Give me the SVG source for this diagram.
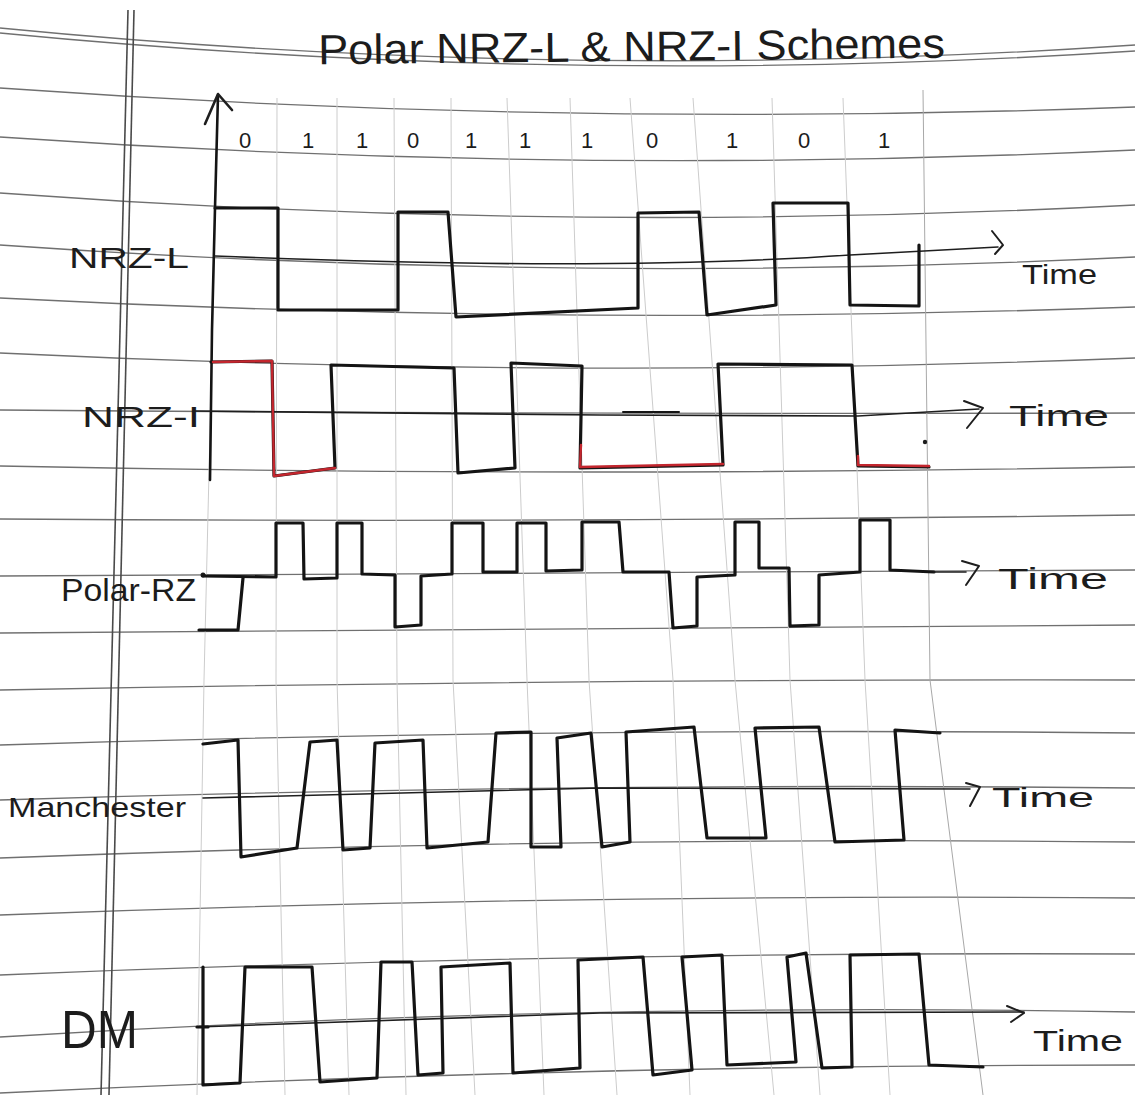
<svg xmlns="http://www.w3.org/2000/svg" width="1135" height="1095" viewBox="0 0 1135 1095">
<style>
.rule{stroke:#707070;stroke-width:1.3;fill:none}
.grid{stroke:#cccccc;stroke-width:1;fill:none}
.margin{stroke:#4a4a4a;stroke-width:1.6;fill:none}
.wave{stroke:#141414;stroke-width:3.2;fill:none;stroke-linejoin:round;stroke-linecap:round}
.axis{stroke:#1e1e1e;stroke-width:1.6;fill:none;stroke-linecap:round}
.head{stroke:#1e1e1e;stroke-width:2;fill:none;stroke-linecap:round;stroke-linejoin:round}
.hand{font-family:"Liberation Sans",Arial,sans-serif;fill:#1c1c1c}
.red{stroke:#c3262e;stroke-width:2.4;fill:none;stroke-linecap:round;stroke-linejoin:round}
</style>
<rect width="1135" height="1095" fill="#ffffff"/>
<g id="ruled-lines">
<path class="rule" d="M0,28 Q567,83.5 1135,45"/>
<path class="rule" d="M0,33 Q567,88 1135,51"/>
<path class="rule" d="M0,88 Q567,128.5 1135,107"/>
<path class="rule" d="M0,137 Q567,176.5 1135,150"/>
<path class="rule" d="M0,193 Q567,235 1135,205"/>
<path class="rule" d="M0,245 Q567,285 1135,257"/>
<path class="rule" d="M0,298 Q567,327.5 1135,307"/>
<path class="rule" d="M0,353 Q567,380.5 1135,358"/>
<path class="rule" d="M0,410 Q567,414.5 1135,413"/>
<path class="rule" d="M0,466 Q567,477.5 1135,467"/>
<path class="rule" d="M0,519 Q567,523 1135,515"/>
<path class="rule" d="M0,576 Q567,571 1135,570"/>
<path class="rule" d="M0,633 Q567,627 1135,625"/>
<path class="rule" d="M0,690 Q567,679 1135,680"/>
<path class="rule" d="M0,745 Q567,727 1135,733"/>
<path class="rule" d="M0,800 Q567,782 1135,788"/>
<path class="rule" d="M0,858 Q567,836 1135,842"/>
<path class="rule" d="M0,915 Q567,893.5 1135,898"/>
<path class="rule" d="M0,975 Q567,951.5 1135,954"/>
<path class="rule" d="M0,1037 Q567,1001.5 1135,1012"/>
<path class="rule" d="M0,1093 Q567,1065 1135,1065"/>
</g>
<g id="grid">
<polyline class="grid" points="218,98 204,680 197,1095"/>
<polyline class="grid" points="277,98 276,680 285,1095"/>
<polyline class="grid" points="337,98 337,680 349,1095"/>
<polyline class="grid" points="394,98 397,680 406,1095"/>
<polyline class="grid" points="451,98 453,680 475,1095"/>
<polyline class="grid" points="507,98 527,680 544,1095"/>
<polyline class="grid" points="570,98 589,680 617,1095"/>
<polyline class="grid" points="630,98 673,680 690,1095"/>
<polyline class="grid" points="693,98 735,680 774,1095"/>
<polyline class="grid" points="772,98 790,680 820,1095"/>
<polyline class="grid" points="843,98 865,680 890,1095"/>
<polyline class="grid" points="923,90 930,680 983,1095" style="stroke:#a8a8a8"/>
</g>
<g id="margin">
<line class="margin" x1="128" y1="10" x2="101" y2="1095"/>
<line class="margin" x1="134" y1="10" x2="109" y2="1095"/>
</g>
<g id="title">
<text class="hand" x="318" y="61" font-size="42" textLength="627" lengthAdjust="spacingAndGlyphs" transform="rotate(-0.6 630 50)">Polar NRZ-L &amp; NRZ-I Schemes</text>
</g>
<g id="vertical-axis">
<path class="wave" d="M218,95 L215,208 L212,330 L210,480" style="stroke-width:2.6"/>
<polyline class="head" points="205,124 218,94 232,110" style="stroke-width:2.6"/>
</g>
<g id="bit-labels" class="hand" font-size="22" text-anchor="middle">
<text x="245" y="148">0</text>
<text x="308" y="148">1</text>
<text x="362" y="148">1</text>
<text x="413" y="148">0</text>
<text x="471" y="148">1</text>
<text x="525" y="148">1</text>
<text x="587" y="148">1</text>
<text x="652" y="148">0</text>
<text x="732" y="148">1</text>
<text x="804" y="148">0</text>
<text x="884" y="148">1</text>
</g>
<g id="nrz-l">
<text class="hand" x="69" y="268" font-size="29" textLength="120" lengthAdjust="spacingAndGlyphs">NRZ-L</text>
<path class="axis" d="M215,256 Q600,272 850,255 L998,247"/>
<polyline class="head" points="992,231 1003,245 995,254"/>
<text class="hand" x="1022" y="284" font-size="28" textLength="75" lengthAdjust="spacingAndGlyphs">Time</text>
<path class="wave" d="M215,208 L278,208 L278,310 L398,310 L398,212 L448,212 L456,317 L638,308 L638,213 L699,212 L707,315 L776,305 L773,203 L848,203 L850,305 L919,306 L919,245"/>
</g>
<g id="nrz-i">
<text class="hand" x="82" y="427" font-size="29" textLength="118" lengthAdjust="spacingAndGlyphs">NRZ-I</text>
<path class="axis" d="M195,411 L600,415 L858,416 L979,409"/>
<polyline class="head" points="964,401 983,408 967,428"/>
<text class="hand" x="1009" y="426" font-size="29" textLength="100" lengthAdjust="spacingAndGlyphs">Time</text>
<path class="wave" d="M211,362 L272,361 L274,476 L335,468 L331,365 L454,368 L458,473 L515,468 L511,363 L582,366 L580,468 L723,465 L718,364 L852,365 L858,466 L929,467"/>
<path class="red" d="M213,362 L272,361 L274,476 L335,468"/>
<path class="red" d="M581,445 L580,467 L723,464"/>
<path class="red" d="M858,456 L858,465 L929,466"/>
<path class="wave" d="M623,412 L679,412" style="stroke-width:2"/>
<circle cx="925" cy="442" r="2.2" fill="#1c1c1c"/>
</g>
<g id="polar-rz">
<text class="hand" x="61" y="601" font-size="32" textLength="135" lengthAdjust="spacingAndGlyphs">Polar-RZ</text>
<circle cx="203" cy="575" r="2.5" fill="#1c1c1c"/>
<path class="wave" d="M199,630 L238,630 L243,578"/>
<path class="wave" d="M203,576 L276,577 L276,523 L303,523 L304,579 L337,578 L337,523 L362,523 L362,574 L395,575 L395,627 L421,625 L421,576 L452,574 L452,523 L483,523 L483,572 L517,572 L517,523 L546,523 L546,571 L582,570 L582,522 L619,522 L623,572 L669,572 L673,628 L697,626 L697,577 L735,575 L735,522 L759,522 L759,568 L789,568 L790,626 L819,625 L819,575 L860,572 L860,520 L890,520 L890,570 L934,572"/>
<path class="axis" d="M934,572 L966,572"/>
<polyline class="head" points="962,561 979,566 966,585"/>
<text class="hand" x="998" y="589" font-size="29" textLength="110" lengthAdjust="spacingAndGlyphs">Time</text>
</g>
<g id="manchester">
<text class="hand" x="8" y="817" font-size="28" textLength="178" lengthAdjust="spacingAndGlyphs">Manchester</text>
<path class="axis" d="M203,798 L600,788 L970,789"/>
<polyline class="head" points="966,783 980,787 970,806"/>
<text class="hand" x="992" y="807" font-size="28" textLength="102" lengthAdjust="spacingAndGlyphs">Time</text>
<path class="wave" d="M203,744 L238,740 L241,857 L297,848 L310,742 L337,740 L343,850 L370,848 L375,743 L423,740 L427,848 L488,842 L496,733 L531,732 L531,847 L561,847 L557,738 L591,733 L602,847 L630,842 L626,732 L694,727 L707,838 L766,838 L755,728 L819,727 L835,842 L904,840 L895,730 L940,733"/>
</g>
<g id="dm">
<text class="hand" x="61" y="1048" font-size="54" textLength="77" lengthAdjust="spacingAndGlyphs">DM</text>
<path class="axis" d="M197,1027 L600,1013 L1024,1012"/>
<polyline class="head" points="1007,1006 1024,1013 1011,1022"/>
<text class="hand" x="1033" y="1051" font-size="29" textLength="90" lengthAdjust="spacingAndGlyphs">Time</text>
<path class="wave" d="M197,1027 L208,1027"/>
<path class="wave" d="M203,967 L203,1085 L240,1083 L245,967 L312,967 L320,1082 L377,1078 L381,962 L412,962 L418,1075 L443,1073 L441,967 L510,963 L513,1073 L580,1068 L578,960 L643,957 L653,1075 L692,1070 L682,957 L722,955 L727,1065 L796,1062 L787,957 L806,953 L822,1068 L852,1067 L850,955 L919,954 L929,1065 L983,1067"/>
</g>
</svg>
